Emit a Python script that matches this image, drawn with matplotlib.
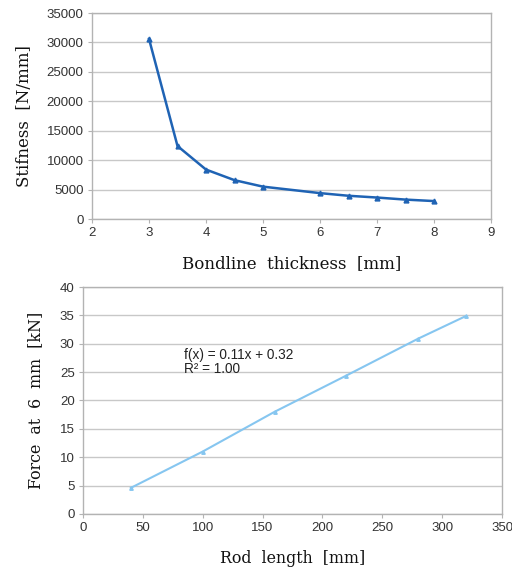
import matplotlib
matplotlib.use("Agg")
import matplotlib.pyplot as plt

# Top chart data
thickness = [3, 3.5, 4, 4.5, 5, 6, 6.5, 7, 7.5, 8]
stiffness = [30600, 12400, 8400, 6600, 5500, 4400, 3950, 3650, 3300, 3050]

# Bottom chart data
rod_length = [40, 100, 160, 220, 280, 320]
force = [4.6, 11.0, 18.0, 24.4, 30.9, 34.9]

top_xticks = [2, 3, 4, 5, 6, 7, 8, 9]
top_yticks = [0, 5000, 10000, 15000, 20000, 25000, 30000, 35000]
bot_xticks = [0, 50, 100, 150, 200, 250, 300, 350]
bot_yticks = [0, 5, 10, 15, 20, 25, 30, 35, 40]

fig = plt.figure(figsize=(5.12, 5.68), dpi=100)
tick_font = dict(family="Liberation Sans", size=9.5)

def style(ax):
    for s in ax.spines.values():
        s.set_color("#b3b3b3")
        s.set_linewidth(1.0)
    ax.grid(axis="y", color="#c8c8c8", linewidth=1.0)
    ax.set_axisbelow(True)
    ax.tick_params(axis="both", length=3, color="#b3b3b3", labelcolor="#333333", pad=3)
    for lab in ax.get_xticklabels() + ax.get_yticklabels():
        lab.set_fontfamily(tick_font["family"])
        lab.set_fontsize(tick_font["size"])

ax1 = fig.add_axes([0.1797, 0.6144, 0.959 - 0.1797, 0.9771 - 0.6144])
ax1.plot(thickness, stiffness, color="#1f63b4", linewidth=1.8, marker="^", markersize=3.5)
ax1.set_xlim(2, 9)
ax1.set_ylim(0, 35000)
ax1.set_xticks(top_xticks)
ax1.set_yticks(top_yticks)
style(ax1)
ax1.set_xlabel("Bondline  thickness  [mm]", labelpad=11, family="DejaVu Serif", size=12, color="#111111")
ax1.set_ylabel("Stifness  [N/mm]", labelpad=10, family="DejaVu Serif", size=12, color="#111111")

ax2 = fig.add_axes([0.162, 0.0951, 0.9805 - 0.162, 0.4947 - 0.0951])
ax2.plot(rod_length, force, color="#86c6f0", linewidth=1.5, marker="^", markersize=2.5)
ax2.set_xlim(0, 350)
ax2.set_ylim(0, 40)
ax2.set_xticks(bot_xticks)
ax2.set_yticks(bot_yticks)
style(ax2)
ax2.set_xlabel("Rod  length  [mm]", labelpad=11, family="DejaVu Serif", size=11.4, color="#111111")
ax2.set_ylabel("Force  at  6  mm  [kN]", labelpad=11, family="DejaVu Serif", size=11.4, color="#111111")
ax2.text(84, 27.3, "f(x) = 0.11x + 0.32", fontfamily="Liberation Sans",
         fontsize=9.8, color="#222222", va="baseline")
ax2.text(84, 24.9, "R² = 1.00", fontfamily="Liberation Sans",
         fontsize=9.8, color="#222222", va="baseline")

fig.savefig("out.png", dpi=100, facecolor="white")
